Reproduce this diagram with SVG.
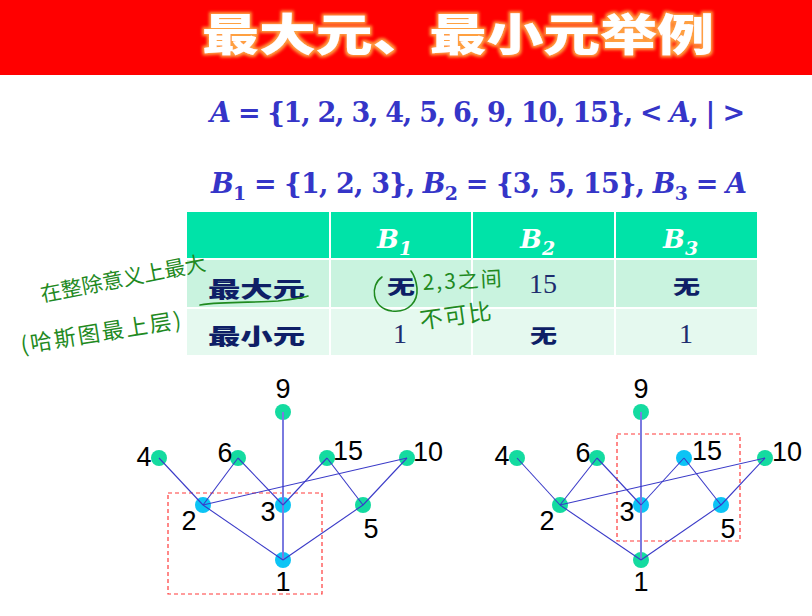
<svg xmlns="http://www.w3.org/2000/svg" width="812" height="616" viewBox="0 0 812 616">
<style>
.title{font-family:"Noto Sans CJK SC","Noto Sans CJK JP",sans-serif;font-weight:900;font-size:44px;fill:#ffffff}
.math{font-family:"DejaVu Serif","Liberation Serif",serif;font-weight:bold;font-size:27px;fill:#3535c8}
.it{font-style:italic}
.hdr{font-family:"DejaVu Serif","Liberation Serif",serif;font-weight:bold;font-style:italic;font-size:26px;fill:#ffffff}
.rowlab{font-family:"Noto Sans CJK SC",sans-serif;font-weight:900;font-size:22px;fill:#0e1f66}
.wu{font-family:"Noto Sans CJK SC",sans-serif;font-weight:900;font-size:19px;fill:#0e1f66}
.num{font-family:"Liberation Serif","DejaVu Serif",serif;font-size:28px;fill:#1d2d6e;text-anchor:middle}
.hand{font-family:"Noto Sans CJK SC",sans-serif;font-weight:400;fill:#1f8a1f}
.handln{fill:none;stroke:#1f8a1f;stroke-width:1.6;stroke-linecap:round}
.lbl{font-family:"Liberation Sans",Arial,sans-serif;font-size:27px;fill:#000000;text-anchor:middle}
.g{fill:#14dba0}
.b{fill:#0cc4f5}
.edge{stroke:#3a3ac8;stroke-width:1.1;fill:none}
.vert{stroke:#7a7ae0;stroke-width:2;fill:none}
.box{fill:none;stroke:#ff3a3a;stroke-width:1.2;stroke-dasharray:4 3}
</style>
<defs>
<filter id="glow" x="-10%" y="-40%" width="120%" height="180%">
<feMorphology in="SourceAlpha" operator="dilate" radius="1.5" result="d"/>
<feGaussianBlur in="d" stdDeviation="1.8" result="bl"/>
<feFlood flood-color="#ffa040"/>
<feComposite in2="bl" operator="in" result="gl"/>
<feMerge><feMergeNode in="gl"/><feMergeNode in="SourceGraphic"/></feMerge>
</filter>
</defs>
<rect x="0" y="0" width="812" height="616" fill="#ffffff"/>
<g id="header">
<rect x="0" y="0" width="812" height="75" fill="#ff0000"/>
<text class="title" x="202" y="51" textLength="512" lengthAdjust="spacingAndGlyphs" filter="url(#glow)">最大元、最小元举例</text>
</g>
<g id="formulas">
<text class="math" x="210" y="122" textLength="535"><tspan class="it">A</tspan> = {1, 2, 3, 4, 5, 6, 9, 10, 15}, &lt; <tspan class="it">A</tspan>, | &gt;</text>
<text class="math" x="211" y="193" textLength="536"><tspan class="it">B</tspan><tspan font-size="19" dy="7">1</tspan><tspan dy="-7"> = {1, 2, 3}, </tspan><tspan class="it">B</tspan><tspan font-size="19" dy="7">2</tspan><tspan dy="-7"> = {3, 5, 15}, </tspan><tspan class="it">B</tspan><tspan font-size="19" dy="7">3</tspan><tspan dy="-7"> = </tspan><tspan class="it">A</tspan></text>
</g>
<g id="table">
<rect x="187" y="212" width="570" height="46" fill="#00e3a8"/>
<rect x="187" y="260" width="570" height="47" fill="#c9f3df"/>
<rect x="187" y="309" width="570" height="46" fill="#e5f9ef"/>
<g stroke="#ffffff" stroke-width="2">
<line x1="330" y1="212" x2="330" y2="355"/>
<line x1="472" y1="212" x2="472" y2="355"/>
<line x1="615" y1="212" x2="615" y2="355"/>
</g>
<text class="hdr" x="377" y="248">B<tspan font-size="19" dy="7">1</tspan></text>
<text class="hdr" x="520" y="248">B<tspan font-size="19" dy="7">2</tspan></text>
<text class="hdr" x="663" y="248">B<tspan font-size="19" dy="7">3</tspan></text>
<text class="rowlab" x="208" y="297" textLength="97" lengthAdjust="spacingAndGlyphs">最大元</text>
<text class="rowlab" x="208" y="344" textLength="97" lengthAdjust="spacingAndGlyphs">最小元</text>
<text class="wu" x="387" y="294" textLength="28" lengthAdjust="spacingAndGlyphs">无</text>
<text class="num" x="543" y="293">15</text>
<text class="wu" x="673" y="294" textLength="27" lengthAdjust="spacingAndGlyphs">无</text>
<text class="num" x="400" y="343">1</text>
<text class="wu" x="530" y="343" textLength="27" lengthAdjust="spacingAndGlyphs">无</text>
<text class="num" x="686" y="343">1</text>
</g>
<g id="annotations">
<text class="hand" font-size="21" x="42" y="302" textLength="168" transform="rotate(-11 42 302)">在整除意义上最大</text>
<text class="hand" font-size="22" x="22" y="353" textLength="162" transform="rotate(-9 22 353)">(哈斯图最上层)</text>
<text class="hand" font-size="21" x="423" y="290" textLength="79" transform="rotate(-3 423 290)">2,3之间</text>
<text class="hand" font-size="23" x="421" y="329" textLength="72" transform="rotate(-8 421 329)">不可比</text>
<path class="handln" d="M 382 277 C 370 285, 371 308, 392 311 C 410 313, 418 300, 417 288 C 416 280, 414 275, 411 271"/>
<path class="handln" d="M 200 305 C 225 301, 255 303, 278 301 C 295 299, 303 298, 308 296"/>
</g>
<g id="left-box"><rect class="box" x="168" y="493" width="154" height="101"/></g>
<g id="right-box"><rect class="box" x="617" y="434" width="123" height="107"/></g>
<g id="L9"><circle class="g" cx="283" cy="412" r="8"/><text class="lbl" x="283" y="398">9</text></g>
<g id="L4"><circle class="g" cx="159" cy="458" r="8"/><text class="lbl" x="144" y="466">4</text></g>
<g id="L6"><circle class="g" cx="238" cy="458" r="8"/><text class="lbl" x="225" y="462">6</text></g>
<g id="L15"><circle class="g" cx="327" cy="458" r="8"/><text class="lbl" x="348" y="460">15</text></g>
<g id="L10"><circle class="g" cx="407" cy="458" r="8"/><text class="lbl" x="428" y="461">10</text></g>
<g id="L2"><circle class="b" cx="203" cy="505" r="8"/><text class="lbl" x="189" y="530">2</text></g>
<g id="L3"><circle class="b" cx="283" cy="505" r="8"/><text class="lbl" x="268" y="521">3</text></g>
<g id="L5"><circle class="g" cx="363" cy="505" r="8"/><text class="lbl" x="371" y="538">5</text></g>
<g id="L1"><circle class="b" cx="283" cy="560" r="8"/><text class="lbl" x="283" y="591">1</text></g>
<g id="R9"><circle class="g" cx="641" cy="412" r="8"/><text class="lbl" x="641" y="398">9</text></g>
<g id="R4"><circle class="g" cx="517" cy="458" r="8"/><text class="lbl" x="502" y="465">4</text></g>
<g id="R6"><circle class="g" cx="597" cy="458" r="8"/><text class="lbl" x="583" y="462">6</text></g>
<g id="R15"><circle class="b" cx="684" cy="458" r="8"/><text class="lbl" x="707" y="460">15</text></g>
<g id="R10"><circle class="g" cx="765" cy="458" r="8"/><text class="lbl" x="787" y="461">10</text></g>
<g id="R2"><circle class="g" cx="560" cy="505" r="8"/><text class="lbl" x="547" y="530">2</text></g>
<g id="R3"><circle class="b" cx="641" cy="505" r="8"/><text class="lbl" x="627" y="521">3</text></g>
<g id="R5"><circle class="b" cx="721" cy="505" r="8"/><text class="lbl" x="728" y="538">5</text></g>
<g id="R1"><circle class="g" cx="641" cy="560" r="8"/><text class="lbl" x="641" y="591">1</text></g>
<g id="connectors">
<line class="vert" x1="283" y1="412" x2="283" y2="560"/>
<line class="edge" x1="159" y1="458" x2="203" y2="505"/>
<line class="edge" x1="238" y1="458" x2="203" y2="505"/>
<line class="edge" x1="238" y1="458" x2="283" y2="505"/>
<line class="edge" x1="327" y1="458" x2="283" y2="505"/>
<line class="edge" x1="327" y1="458" x2="363" y2="505"/>
<line class="edge" x1="407" y1="458" x2="363" y2="505"/>
<line class="edge" x1="407" y1="458" x2="203" y2="505"/>
<line class="edge" x1="203" y1="505" x2="283" y2="560"/>
<line class="edge" x1="363" y1="505" x2="283" y2="560"/>
<line class="vert" x1="641" y1="412" x2="641" y2="560"/>
<line class="edge" x1="517" y1="458" x2="560" y2="505"/>
<line class="edge" x1="597" y1="458" x2="560" y2="505"/>
<line class="edge" x1="597" y1="458" x2="641" y2="505"/>
<line class="edge" x1="684" y1="458" x2="641" y2="505"/>
<line class="edge" x1="684" y1="458" x2="721" y2="505"/>
<line class="edge" x1="765" y1="458" x2="721" y2="505"/>
<line class="edge" x1="765" y1="458" x2="560" y2="505"/>
<line class="edge" x1="560" y1="505" x2="641" y2="560"/>
<line class="edge" x1="721" y1="505" x2="641" y2="560"/>
</g>
</svg>
